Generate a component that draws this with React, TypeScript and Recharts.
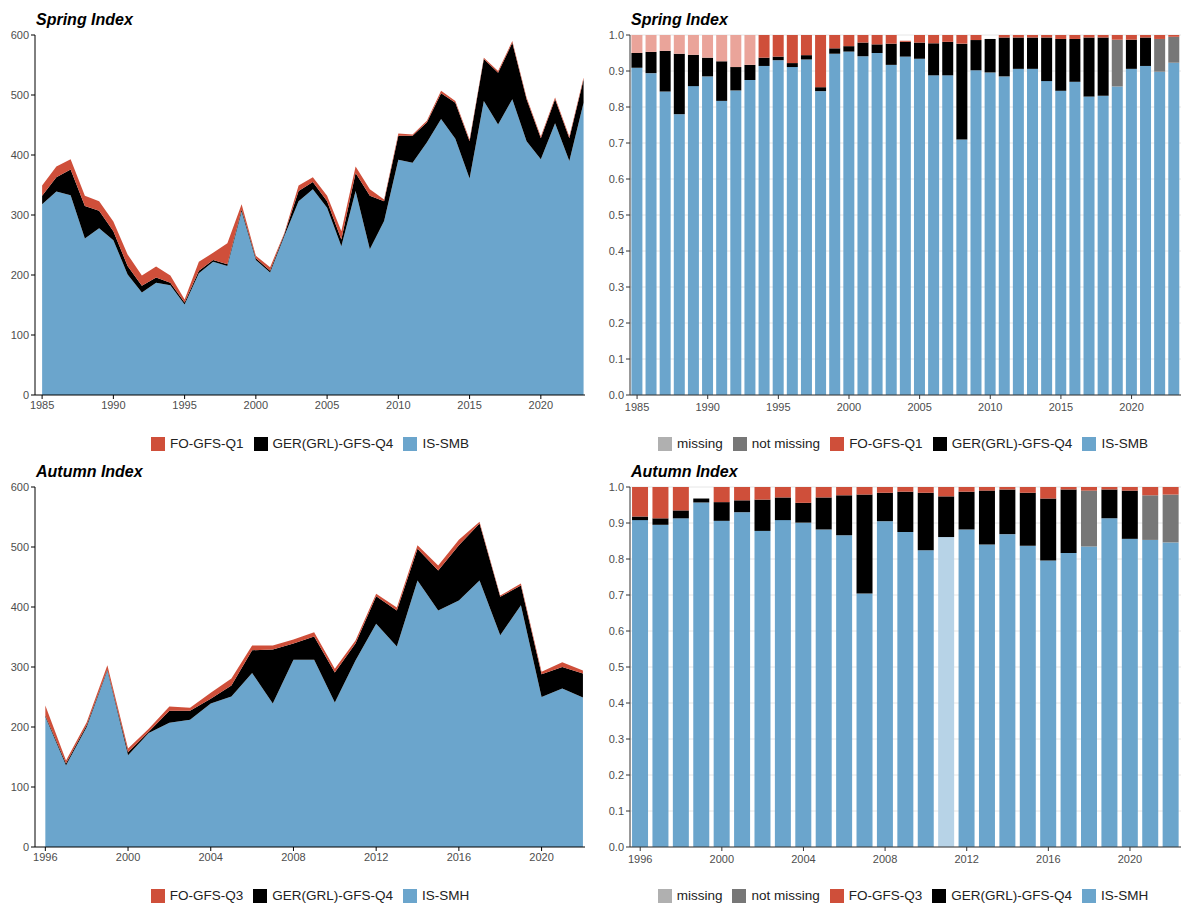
import React from 'react'
import { AreaChart, Area, BarChart, Bar, XAxis, YAxis, CartesianGrid, Cell } from 'recharts'

const BLUE = '#6ba5cc'
const LIGHTBLUE = '#b7d3e7'
const RED = '#cf4f3a'
const LIGHTRED = '#eaa49a'
const GREY = '#777777'
const LIGHTGREY = '#b0b0b0'

// Spring index (absolute), cumulative tops
const springYears = [1985, 1986, 1987, 1988, 1989, 1990, 1991, 1992, 1993, 1994, 1995, 1996, 1997, 1998, 1999, 2000, 2001, 2002, 2003, 2004, 2005, 2006, 2007, 2008, 2009, 2010, 2011, 2012, 2013, 2014, 2015, 2016, 2017, 2018, 2019, 2020, 2021, 2022, 2023]
const springIS = [318, 339, 333, 261, 278, 258, 201, 171, 187, 183, 151, 203, 222, 215, 306, 225, 204, 265, 323, 343, 312, 248, 340, 243, 290, 392, 387, 421, 460, 427, 361, 490, 451, 493, 423, 393, 453, 390, 487]
const springGERTop = [332, 363, 376, 315, 307, 273, 215, 182, 196, 187, 154, 207, 225, 218, 309, 228, 207, 268, 340, 355, 323, 259, 370, 332, 323, 432, 432, 454, 503, 487, 423, 560, 537, 587, 493, 428, 493, 428, 526]
const springFOTop = [349, 381, 393, 332, 323, 289, 234, 199, 214, 199, 159, 222, 237, 253, 318, 232, 213, 270, 349, 363, 332, 273, 381, 343, 326, 436, 434, 457, 507, 490, 426, 562, 540, 590, 496, 431, 496, 431, 529]

// Spring proportions
const springPropIS = [0.909, 0.894, 0.843, 0.78, 0.858, 0.885, 0.817, 0.846, 0.875, 0.914, 0.93, 0.911, 0.932, 0.844, 0.948, 0.954, 0.941, 0.95, 0.917, 0.94, 0.934, 0.888, 0.888, 0.71, 0.902, 0.896, 0.885, 0.906, 0.906, 0.872, 0.845, 0.87, 0.829, 0.831, 0.857, 0.906, 0.914, 0.898, 0.923]
const springPropGERTop = [0.95, 0.953, 0.956, 0.948, 0.945, 0.937, 0.927, 0.911, 0.917, 0.937, 0.94, 0.922, 0.944, 0.855, 0.963, 0.969, 0.979, 0.974, 0.976, 0.981, 0.979, 0.977, 0.981, 0.976, 0.986, 0.989, 0.993, 0.993, 0.993, 0.993, 0.989, 0.989, 0.993, 0.993, 0.987, 0.987, 0.993, 0.989, 0.995]
const springPropFOTop = [1, 1, 1, 1, 1, 1, 1, 1, 1, 1, 1, 1, 1, 1, 1, 1, 1, 1, 1, 0.984, 1, 1, 1, 1, 1, 0.989, 1, 1, 1, 1, 1, 1, 1, 1, 1, 1, 1, 1, 1]
const springFOMissing = [1985, 1986, 1987, 1988, 1989, 1990, 1991, 1992, 1993]
const springGERGrey = [2019, 2022, 2023]

// Autumn index (absolute)
const autumnYears = [1996, 1997, 1998, 1999, 2000, 2001, 2002, 2003, 2004, 2005, 2006, 2007, 2008, 2009, 2010, 2011, 2012, 2013, 2014, 2015, 2016, 2017, 2018, 2019, 2020, 2021, 2022]
const autumnIS = [217, 136, 200, 294, 153, 190, 207, 212, 239, 251, 290, 239, 312, 312, 241, 311, 372, 334, 444, 394, 411, 444, 353, 403, 250, 264, 249]
const autumnGERTop = [219, 139, 203, 296, 158, 192, 227, 227, 247, 269, 328, 329, 339, 351, 291, 339, 418, 394, 497, 461, 503, 539, 417, 436, 288, 300, 289]
const autumnFOTop = [236, 144, 208, 303, 164, 197, 234, 232, 257, 281, 336, 336, 346, 358, 297, 344, 422, 399, 503, 469, 512, 542, 419, 439, 292, 308, 294]

// Autumn proportions
const autumnPropIS = [0.908, 0.895, 0.913, 0.957, 0.906, 0.93, 0.878, 0.908, 0.901, 0.882, 0.866, 0.704, 0.905, 0.875, 0.824, 0.861, 0.882, 0.84, 0.869, 0.837, 0.796, 0.817, 0.835, 0.913, 0.856, 0.853, 0.846]
const autumnPropGERTop = [0.918, 0.913, 0.935, 0.968, 0.958, 0.963, 0.965, 0.971, 0.956, 0.971, 0.977, 0.979, 0.984, 0.987, 0.984, 0.974, 0.987, 0.99, 0.993, 0.984, 0.968, 0.993, 0.99, 0.993, 0.99, 0.977, 0.979]
const autumnPropFOTop = [1, 1, 1, 0.968, 1, 1, 1, 1, 1, 1, 1, 1, 1, 1, 1, 1, 1, 1, 1, 1, 1, 1, 1, 1, 1, 1, 1]
const autumnISMissing = [2011]
const autumnGERGrey = [2018, 2021, 2022]

const absTicks = [0, 100, 200, 300, 400, 500, 600]
const propTicks = [0, 0.1, 0.2, 0.3, 0.4, 0.5, 0.6, 0.7, 0.8, 0.9, 1]
const springXTicks = [1985, 1990, 1995, 2000, 2005, 2010, 2015, 2020]
const autumnXTicks = [1996, 2000, 2004, 2008, 2012, 2016, 2020]

const font = '"Liberation Sans", Arial, sans-serif'
const tickStyle = { fontSize: 11, fill: '#4d4d4d', fontFamily: font }

function absData(years: number[], is: number[], ger: number[], fo: number[]) {
  return years.map((y, i) => ({ year: y, is: is[i], ger: ger[i] - is[i], fo: fo[i] - ger[i] }))
}
function propData(years: number[], is: number[], ger: number[], fo: number[]) {
  return years.map((y, i) => ({ year: y, is: is[i], ger: ger[i] - is[i], fo: Math.max(0, fo[i] - ger[i]) }))
}

function Title({ text }: { text: string }) {
  return <div style={{ position: 'absolute', left: 36, top: 11, fontFamily: font, fontWeight: 'bold', fontStyle: 'italic', fontSize: 16 }}>{text}</div>
}

function Sw({ color, label }: { color: string; label: string }) {
  return (
    <span style={{ display: 'inline-flex', alignItems: 'center', marginRight: 10 }}>
      <span style={{ width: 14, height: 14, background: color, display: 'inline-block', marginRight: 5 }} />
      {label}
    </span>
  )
}

function Legend({ items, left }: { items: [string, string][]; left: number }) {
  return (
    <div style={{ position: 'absolute', top: 436, left, right: 0, textAlign: 'center', fontFamily: font, fontSize: 13.5, color: '#222' }}>
      {items.map(([c, l]) => <Sw key={l} color={c} label={l} />)}
    </div>
  )
}

function AbsPanel({ title, data, ticks, q, top }: { title: string; data: any[]; ticks: number[]; q: string; top: number }) {
  return (
    <div style={{ position: 'absolute', left: 0, top, width: 595, height: 452 }}>
      <Title text={title} />
      <AreaChart width={590} height={420} data={data} margin={{ top: 35, right: 5, left: 0, bottom: 0 }}>
        <XAxis dataKey="year" type="number" domain={[data[0].year - 0.5, data[data.length - 1].year + 0.1]} ticks={ticks} tick={tickStyle} stroke="#000" tickSize={4} height={25} allowDataOverflow />
        <YAxis domain={[0, 600]} ticks={absTicks} tick={tickStyle} stroke="#000" tickSize={4} width={35} />
        <Area type="linear" dataKey="is" stackId="a" stroke="none" fill={BLUE} fillOpacity={1} isAnimationActive={false} />
        <Area type="linear" dataKey="ger" stackId="a" stroke="none" fill="#000" fillOpacity={1} isAnimationActive={false} />
        <Area type="linear" dataKey="fo" stackId="a" stroke="none" fill={RED} fillOpacity={1} isAnimationActive={false} />
      </AreaChart>
      <Legend left={35} items={[[RED, q], ['#000', 'GER(GRL)-GFS-Q4'], [BLUE, title.startsWith('Spring') ? 'IS-SMB' : 'IS-SMH']]} />
    </div>
  )
}

function YearTick(props: any) {
  const { x, y, payload, labelled } = props
  if (!labelled.includes(payload.value)) return <g />
  return (
    <g>
      <line x1={x} x2={x} y1={y - 8} y2={y - 4} stroke="#333" />
      <text x={x} y={y + 8} textAnchor="middle" {...tickStyle}>{payload.value}</text>
    </g>
  )
}

function PropPanel({ title, data, ticks, q, top, foMissing, isMissing, gerGrey }: { title: string; data: any[]; ticks: number[]; q: string; top: number; foMissing: number[]; isMissing: number[]; gerGrey: number[] }) {
  return (
    <div style={{ position: 'absolute', left: 595, top, width: 591, height: 452 }}>
      <Title text={title} />
      <BarChart width={591} height={420} data={data} margin={{ top: 35, right: 5, left: 0, bottom: 0 }} barCategoryGap="10%">
        <CartesianGrid vertical={false} stroke="#e6e6e6" />
        <XAxis dataKey="year" interval={0} tick={(p: any) => <YearTick {...p} labelled={ticks} />} tickLine={false} stroke="#333" height={25} />
        <YAxis domain={[0, 1]} ticks={propTicks} tickFormatter={(v: number) => v.toFixed(1)} tick={tickStyle} stroke="#333" tickSize={4} width={35} />
        <Bar dataKey="is" stackId="a" isAnimationActive={false}>
          {data.map(d => <Cell key={d.year} fill={isMissing.includes(d.year) ? LIGHTBLUE : BLUE} />)}
        </Bar>
        <Bar dataKey="ger" stackId="a" isAnimationActive={false}>
          {data.map(d => <Cell key={d.year} fill={gerGrey.includes(d.year) ? GREY : '#000'} />)}
        </Bar>
        <Bar dataKey="fo" stackId="a" isAnimationActive={false}>
          {data.map(d => <Cell key={d.year} fill={foMissing.includes(d.year) ? LIGHTRED : RED} />)}
        </Bar>
      </BarChart>
      <Legend left={35} items={[[LIGHTGREY, 'missing'], [GREY, 'not missing'], [RED, q], ['#000', 'GER(GRL)-GFS-Q4'], [BLUE, title.startsWith('Spring') ? 'IS-SMB' : 'IS-SMH']]} />
    </div>
  )
}

export default function App() {
  const sAbs = absData(springYears, springIS, springGERTop, springFOTop)
  const aAbs = absData(autumnYears, autumnIS, autumnGERTop, autumnFOTop)
  const sProp = propData(springYears, springPropIS, springPropGERTop, springPropFOTop)
  const aProp = propData(autumnYears, autumnPropIS, autumnPropGERTop, autumnPropFOTop)
  return (
    <div style={{ position: 'absolute', left: 0, top: 0, width: 1186, height: 906, background: '#fff' }}>
      <AbsPanel title="Spring Index" data={sAbs} ticks={springXTicks} q="FO-GFS-Q1" top={0} />
      <PropPanel title="Spring Index" data={sProp} ticks={springXTicks} q="FO-GFS-Q1" top={0} foMissing={springFOMissing} isMissing={[]} gerGrey={springGERGrey} />
      <AbsPanel title="Autumn Index" data={aAbs} ticks={autumnXTicks} q="FO-GFS-Q3" top={452} />
      <PropPanel title="Autumn Index" data={aProp} ticks={autumnXTicks} q="FO-GFS-Q3" top={452} foMissing={[]} isMissing={autumnISMissing} gerGrey={autumnGERGrey} />
    </div>
  )
}
